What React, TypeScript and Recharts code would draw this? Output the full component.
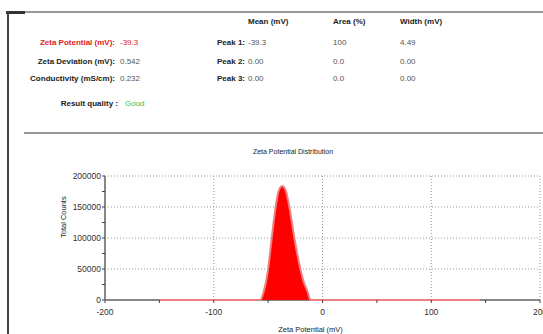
import React from 'react';
import { ComposedChart, Area, XAxis, YAxis, CartesianGrid } from 'recharts';

// distribution
const zetaMv = [-150, -57, -55, -50, -47, -43.5, -40.5, -37, -33.5, -30, -25.5, -21, -17.5, -14, -11, 145];
const totalCounts = [0, 0, 8000, 50000, 95000, 145000, 175000, 184000, 175000, 145000, 96000, 55000, 30000, 15000, 0, 0];

const xTicks = [-200, -150, -100, -50, 0, 50, 100, 150, 200];
const xGrid = [-100, 0, 100, 200];
const yTicks = [0, 25000, 50000, 75000, 100000, 125000, 150000, 175000, 200000];
const yGrid = [50000, 100000, 150000, 200000];

// report table
const summaryLabels = ['Zeta Potential (mV):', 'Zeta Deviation (mV):', 'Conductivity (mS/cm):'];
const summaryValues = ['-39.3', '0.542', '0.232'];
const peakLabels = ['Peak 1:', 'Peak 2:', 'Peak 3:'];
const peakMeans = ['-39.3', '0.00', '0.00'];
const peakAreas = ['100', '0.0', '0.0'];
const peakWidths = ['4.49', '0.00', '0.00'];
const headers = ['Mean (mV)', 'Area (%)', 'Width (mV)'];

const font = '"Liberation Sans", Arial, sans-serif';
const rowY = [43, 62, 79];
const colX = [248, 333, 400];

const txt = (extra: React.CSSProperties): React.CSSProperties => ({
    position: 'absolute',
    fontFamily: font,
    fontSize: 8,
    lineHeight: '10px',
    whiteSpace: 'nowrap',
    ...extra,
});

const App: React.FC = () => {
    const data = zetaMv.map((x, i) => ({ x, counts: totalCounts[i] }));

    return (
        <div style={{ position: 'absolute', left: 0, top: 0, width: 543, height: 334, background: '#fff', overflow: 'hidden' }}>
            {/* frame */}
            <div style={{ position: 'absolute', left: 8, top: 11, width: 535, height: 2, background: '#999' }} />
            <div style={{ position: 'absolute', left: 6, top: 11, width: 19, height: 3, background: '#333' }} />
            <div style={{ position: 'absolute', left: 7, top: 11, width: 2, height: 323, background: '#444' }} />
            <div style={{ position: 'absolute', left: 24, top: 132, width: 519, height: 2, background: '#999' }} />

            {headers.map((h, i) => (
                <div key={h} style={txt({ left: colX[i], top: 17, fontWeight: 'bold', color: '#222' })}>{h}</div>
            ))}

            {summaryLabels.map((l, i) => (
                <React.Fragment key={l}>
                    <div style={txt({ left: 0, width: 115, textAlign: 'right', top: rowY[i] - 5, fontWeight: 'bold', color: i === 0 ? '#e02020' : '#222' })}>{l}</div>
                    <div style={txt({ left: 120, top: rowY[i] - 5, color: i === 0 ? '#e02020' : '#555' })}>{summaryValues[i]}</div>
                    <div style={txt({ left: 160, width: 85, textAlign: 'right', top: rowY[i] - 5, fontWeight: 'bold', color: '#222' })}>{peakLabels[i]}</div>
                    <div style={txt({ left: colX[0], top: rowY[i] - 5, color: '#555' })}>{peakMeans[i]}</div>
                    <div style={txt({ left: colX[1], top: rowY[i] - 5, color: '#555' })}>{peakAreas[i]}</div>
                    <div style={txt({ left: colX[2], top: rowY[i] - 5, color: '#555' })}>{peakWidths[i]}</div>
                </React.Fragment>
            ))}

            <div style={txt({ left: 0, width: 118, textAlign: 'right', top: 99, fontWeight: 'bold', color: '#222' })}>Result quality :</div>
            <div style={txt({ left: 125, top: 99, color: '#44bb44' })}>Good</div>

            <div style={txt({ left: 243, width: 100, textAlign: 'center', top: 147, fontSize: 7, color: '#222' })}>Zeta Potential Distribution</div>

            {/* gray x axis line sits under the svg so the pink baseline shows on top */}
            <div style={{ position: 'absolute', left: 105, top: 299, width: 435, height: 2, background: '#888' }} />

            <div style={{ position: 'absolute', left: 0, top: 140 }}>
                <ComposedChart width={543} height={194} data={data} margin={{ top: 36, right: 3, bottom: 4, left: 60 }}>
                    <CartesianGrid
                        horizontalValues={yGrid}
                        verticalValues={xGrid}
                        stroke="#999"
                        strokeDasharray="1 2"
                    />
                    <XAxis
                        type="number"
                        dataKey="x"
                        domain={[-200, 200]}
                        ticks={xTicks}
                        interval={0}
                        height={30}
                        tickSize={3}
                        tickMargin={6}
                        tickFormatter={(v: number) => (v % 100 === 0 ? String(v) : '')}
                        tick={{ fontSize: 8.5, fill: '#333', fontFamily: font }}
                        axisLine={false}
                        tickLine={{ stroke: '#444' }}
                        label={{ value: 'Zeta Potential (mV)', position: 'insideBottom', offset: -2, dx: -12, fontSize: 7.5, fill: '#222', fontFamily: font }}
                    />
                    <YAxis
                        type="number"
                        domain={[0, 200000]}
                        ticks={yTicks}
                        interval={0}
                        width={45}
                        tickSize={3}
                        tickMargin={1}
                        tickFormatter={(v: number) => (v % 50000 === 0 ? String(v) : '')}
                        tick={{ fontSize: 8.5, fill: '#333', fontFamily: font }}
                        axisLine={{ stroke: '#888', strokeWidth: 2 }}
                        tickLine={{ stroke: '#444' }}
                        label={{ value: 'Total Counts', angle: -90, position: 'insideLeft', offset: 3, fontSize: 7.5, fill: '#222', fontFamily: font }}
                    />
                    <Area
                        type="monotone"
                        dataKey="counts"
                        fill="#ff0000"
                        fillOpacity={1}
                        stroke="#ee8080"
                        strokeWidth={2}
                        isAnimationActive={false}
                        dot={false}
                        activeDot={false}
                    />
                </ComposedChart>
            </div>
        </div>
    );
};

export default App;
